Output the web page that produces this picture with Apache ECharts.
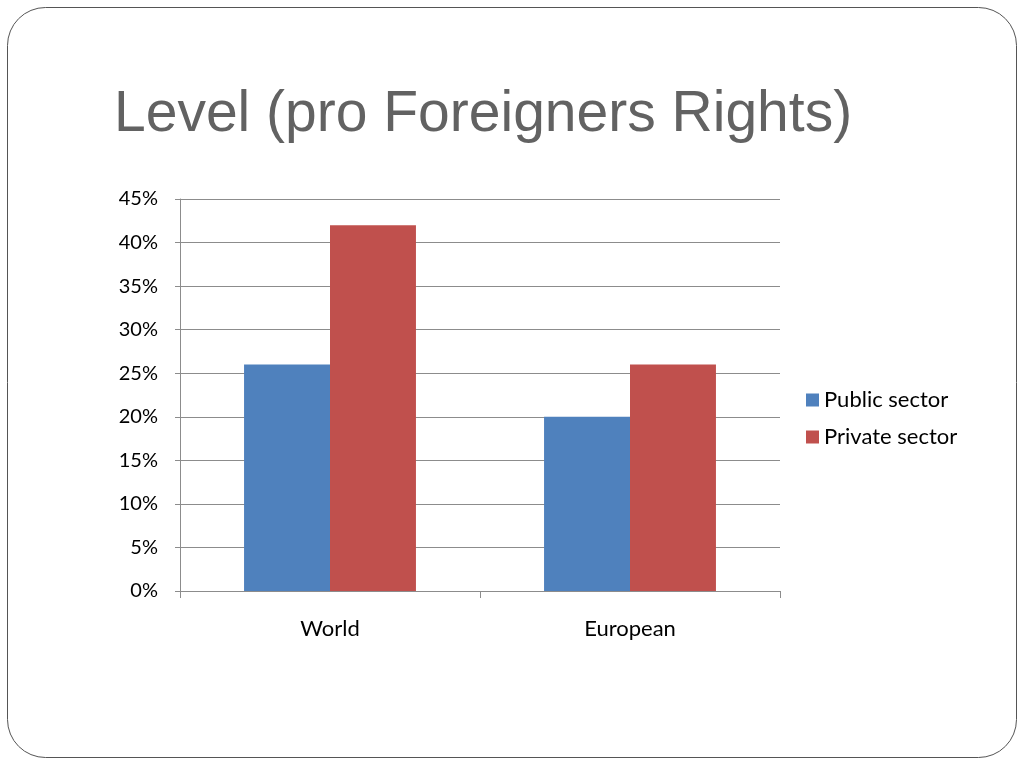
<!DOCTYPE html>
<html>
<head>
<meta charset="utf-8">
<script src="https://cdn.jsdelivr.net/npm/echarts@6/dist/echarts.min.js"></script>
<style>
  html, body { margin: 0; padding: 0; background: #fff; }
  #main { width: 1024px; height: 768px; }
</style>
</head>
<body>
<div id="main"></div>
<script>
// data
var categories = ['World', 'European'];
var publicSector = [26, 20];
var privateSector = [42, 26];
var seriesNames = ['Public sector', 'Private sector'];

var labelFont = 'Lato, "Open Sans", sans-serif';

var myChart = echarts.init(document.getElementById('main'));
var option = {
    animation: false,
    backgroundColor: '#fff',
    title: {
        text: 'Level (pro Foreigners Rights)',
        left: 109,
        top: 82,
        textStyle: {
            fontFamily: '"Liberation Sans", Arial, sans-serif',
            fontSize: 57,
            fontWeight: 'normal',
            color: '#626262'
        }
    },
    graphic: [
        {
            type: 'rect',
            shape: { x: 7.5, y: 7.5, width: 1009, height: 750, r: 38 },
            style: { fill: 'none', stroke: '#555', lineWidth: 1 },
            silent: true
        }
    ],
    legend: {
        orient: 'vertical',
        left: 801,
        top: 384,
        itemWidth: 13,
        itemHeight: 13,
        itemGap: 15,
        icon: 'rect',
        data: seriesNames,
        textStyle: {
            fontFamily: labelFont,
            fontSize: 22,
            color: '#000'
        }
    },
    grid: {
        left: 180,
        right: 244,
        top: 199,
        bottom: 177,
        containLabel: false
    },
    xAxis: {
        type: 'category',
        data: categories,
        axisLine: { lineStyle: { color: '#8c8c8c', width: 1 } },
        axisTick: { show: true, length: 7, inside: false, lineStyle: { color: '#8c8c8c' } },
        axisLabel: {
            fontFamily: labelFont,
            fontSize: 22,
            color: '#000',
            margin: 27
        }
    },
    yAxis: {
        type: 'value',
        min: 0,
        max: 45,
        interval: 5,
        axisLine: { show: true, lineStyle: { color: '#8c8c8c', width: 1 } },
        axisTick: { show: true, length: 5, lineStyle: { color: '#8c8c8c' } },
        splitLine: { lineStyle: { color: '#8c8c8c', width: 1 } },
        axisLabel: {
            formatter: '{value}%',
            fontFamily: labelFont,
            fontSize: 20,
            color: '#000',
            margin: 22
        }
    },
    series: [
        {
            name: seriesNames[0],
            type: 'bar',
            data: publicSector,
            barGap: '0%',
            barCategoryGap: '42.7%',
            itemStyle: { color: '#4f81bd' }
        },
        {
            name: seriesNames[1],
            type: 'bar',
            data: privateSector,
            itemStyle: { color: '#c0504d' }
        }
    ]
};
myChart.setOption(option);
</script>
</body>
</html>
